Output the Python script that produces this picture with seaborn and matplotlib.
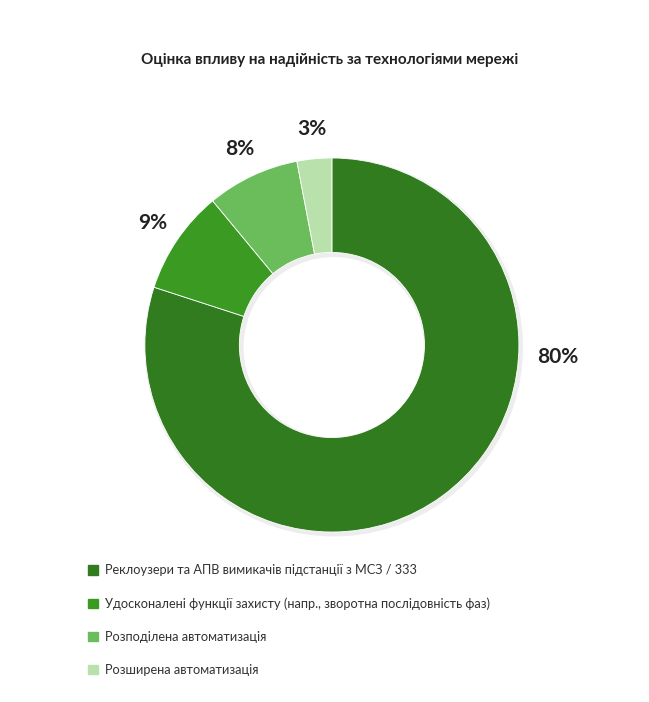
import numpy as np
import matplotlib
matplotlib.use("Agg")
import matplotlib.pyplot as plt
import seaborn as sns

# data
categories = [
    "Реклоузери та АПВ вимикачів підстанції з МСЗ / 333",
    "Удосконалені функції захисту (напр., зворотна послідовність фаз)",
    "Розподілена автоматизація",
    "Розширена автоматизація",
]
values = [80, 9, 8, 3]
colors = ["#307c1e", "#3a9a22", "#6bbd5b", "#b9e1ac"]

sns.set_theme(style="white")
plt.rcParams["font.family"] = ["Lato", "DejaVu Sans"]

fig = plt.figure(figsize=(6.49, 7.02), dpi=100)
lim = 1.4
ax = fig.add_axes([0.108, 0.1356, 0.8068, 0.7459])

# soft shadow ring
ax.pie(values, radius=1.012, startangle=90, counterclock=False,
       colors=["#00000012"] * len(values),
       wedgeprops=dict(width=0.53, linewidth=0), center=(0.01, -0.012))

wedges, _ = ax.pie(values, radius=1.0, startangle=90, counterclock=False,
                   colors=colors, wedgeprops=dict(width=0.505, linewidth=0.6, edgecolor="white"))

# labels
for i, w in enumerate(wedges):
    ang = np.deg2rad((w.theta1 + w.theta2) / 2)
    r = 1.16
    if i == 0:
        ang = np.deg2rad(-3)
        r = 1.21
    ax.text(r * np.cos(ang), r * np.sin(ang), f"{values[i]}%",
            ha="center", va="center", fontsize=15, fontweight="bold", color="#222222")

ax.set_xlim(-lim, lim)
ax.set_ylim(-lim, lim)
ax.set_aspect("equal")
ax.axis("off")

fig.text(0.508, 0.914, "Оцінка впливу на надійність за технологіями мережі",
         ha="center", va="center", fontsize=11, fontweight="bold", color="#222222")

handles = [plt.Rectangle((0, 0), 1, 1, color=c) for c in colors]
fig.legend(handles, categories, loc="upper left", bbox_to_anchor=(0.136, 0.196),
           frameon=False, fontsize=9.2, handlelength=0.75, handleheight=0.75,
           handletextpad=0.55, labelspacing=1.65, labelcolor="#333333",
           borderpad=0, borderaxespad=0)

fig.savefig("out.png", dpi=100, facecolor="white")
